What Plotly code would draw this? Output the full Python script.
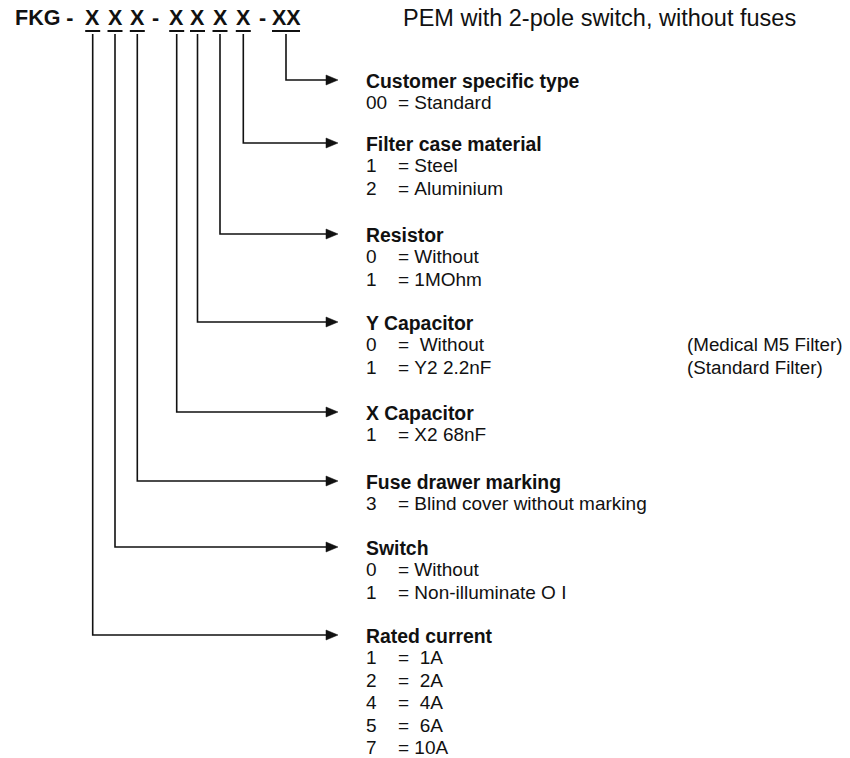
import plotly.graph_objects as go

# ---- data ----
prefix = "FKG -"
code_tokens = ["X", "X", "X", "-", "X", "X", "X", "X", "-", "XX"]
header_note = "PEM with 2-pole switch, without fuses"

# fields, in order of the code positions (left to right)
field_titles = [
    "Rated current",
    "Switch",
    "Fuse drawer marking",
    "X Capacitor",
    "Y Capacitor",
    "Resistor",
    "Filter case material",
    "Customer specific type",
]
field_codes = [
    ["1", "2", "4", "5", "7"],
    ["0", "1"],
    ["3"],
    ["1"],
    ["0", "1"],
    ["0", "1"],
    ["1", "2"],
    ["00"],
]
field_values = [
    ["=  1A", "=  2A", "=  4A", "=  6A", "= 10A"],
    ["= Without", "= Non-illuminate O I"],
    ["= Blind cover without marking"],
    ["= X2 68nF"],
    ["=  Without", "= Y2 2.2nF"],
    ["= Without", "= 1MOhm"],
    ["= Steel", "= Aluminium"],
    ["= Standard"],
]
field_notes = [
    [], [], [], [],
    ["(Medical M5 Filter)", "(Standard Filter)"],
    [], [], [],
]

# ---- layout (page pixel coordinates) ----
W, H = 850, 758
token_x = [92.7, 115, 137.3, 155, 176.7, 197.5, 220, 243.3, 262, 286]
digit_x = [x for x, t in zip(token_x, code_tokens) if t != "-"]
arrow_y = [635, 547, 481, 412, 322, 234, 143, 80]
header_y = 18
line_top = 34
tip_x = 338
head_len = 12
head_half = 5
text_x = 365
eq_x = 397
note_x = 686
row_gap = 22.4

FONT = "Liberation Sans, Arial, sans-serif"
INK = "#111111"

fig = go.Figure()
shapes = []
ann = []

# header
ann.append(dict(x=13, y=header_y, text="<b>%s</b>" % prefix, xanchor="left",
                font=dict(size=21.5, family=FONT, color=INK)))
for x, t in zip(token_x, code_tokens):
    ann.append(dict(x=x, y=header_y, text="<b>%s</b>" % t, xanchor="center",
                    font=dict(size=21.5, family=FONT, color=INK)))
    if t != "-":
        hw = 7.5 if t == "X" else 14
        shapes.append(dict(type="line", x0=x - hw, x1=x + hw, y0=31, y1=31,
                           line=dict(color=INK, width=2)))
ann.append(dict(x=401, y=header_y, text=header_note, xanchor="left",
                font=dict(size=23.5, family=FONT, color=INK)))

# connectors, arrows and field descriptions
for i, x in enumerate(digit_x):
    ay = arrow_y[i]
    shapes.append(dict(type="path",
                       path="M %f %f L %f %f L %f %f" % (x, line_top, x, ay, tip_x - head_len + 1, ay),
                       line=dict(color=INK, width=1.6)))
    shapes.append(dict(type="path",
                       path="M %f %f L %f %f L %f %f Z" % (tip_x - head_len, ay - head_half, tip_x, ay,
                                                          tip_x - head_len, ay + head_half),
                       fillcolor=INK, line=dict(color=INK, width=0.5)))
    ty = ay + 0.5
    ann.append(dict(x=text_x - 1, y=ty, text="<b>%s</b>" % field_titles[i], xanchor="left",
                    font=dict(size=19.4, family=FONT, color=INK)))
    for j, (c, v) in enumerate(zip(field_codes[i], field_values[i])):
        ry = ty + row_gap * (j + 1)
        ann.append(dict(x=text_x - 1, y=ry, text=c, xanchor="left",
                        font=dict(size=19, family=FONT, color=INK)))
        ann.append(dict(x=eq_x - 1, y=ry, text=v.replace(" ", "\u00a0"), xanchor="left",
                        font=dict(size=19, family=FONT, color=INK)))
    for j, n in enumerate(field_notes[i]):
        ry = ty + row_gap * (j + 1)
        ann.append(dict(x=note_x - 1, y=ry, text=n, xanchor="left",
                        font=dict(size=18.8, family=FONT, color=INK)))

for a in ann:
    a.update(xref="x", yref="y", yanchor="middle", showarrow=False)

fig.update_layout(
    width=W, height=H,
    margin=dict(l=0, r=0, t=0, b=0),
    paper_bgcolor="white", plot_bgcolor="white",
    xaxis=dict(range=[0, W], visible=False, fixedrange=True),
    yaxis=dict(range=[H, 0], visible=False, fixedrange=True),
    shapes=shapes, annotations=ann, showlegend=False,
)
fig.write_html("out.html",
               config={"displayModeBar": False, "staticPlot": True},
               post_script="document.body.style.margin='0';document.body.style.overflow='hidden';")
